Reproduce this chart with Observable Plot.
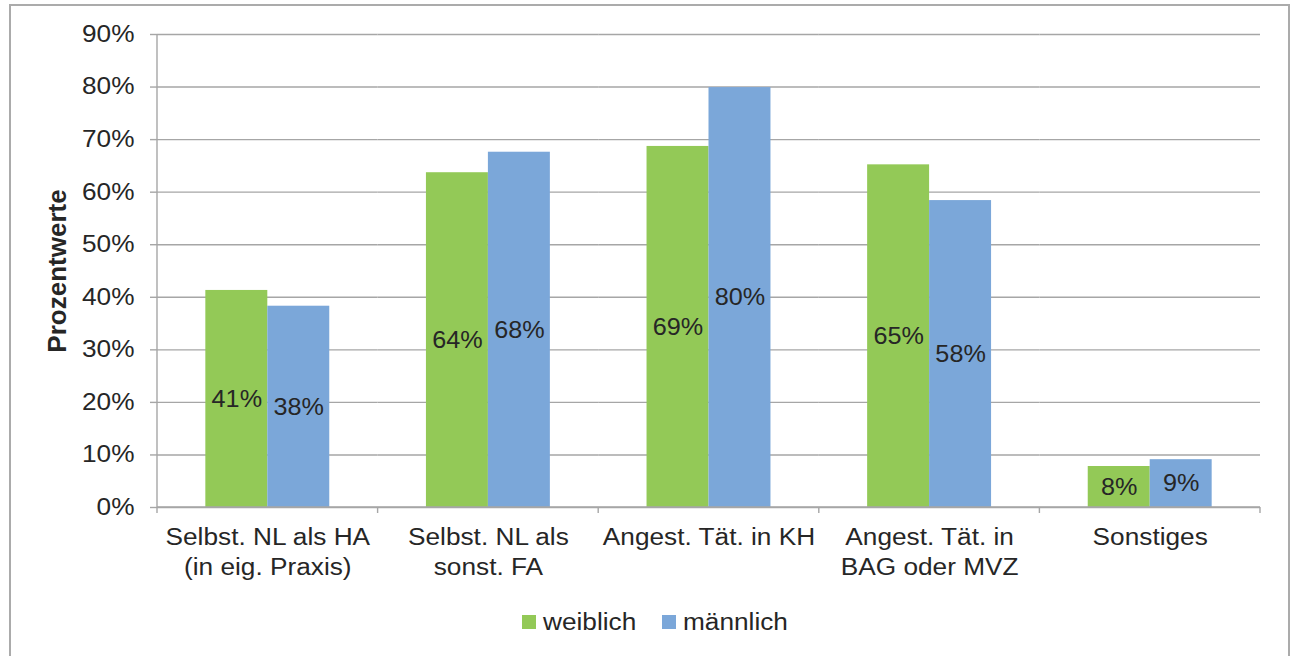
<!DOCTYPE html>
<html>
<head>
<meta charset="utf-8">
<script src="https://cdn.jsdelivr.net/npm/d3@7"></script>
<script src="https://cdn.jsdelivr.net/npm/@observablehq/plot@0.6"></script>
<style>
  html, body { margin: 0; padding: 0; background: #fff; }
  body { width: 1295px; height: 656px; overflow: hidden; position: relative; font-family: "Liberation Sans", Arial, sans-serif; }
  #frame { position: absolute; left: 9px; top: 4px; width: 1277px; height: 700px; border: 2px solid #ababab; pointer-events: none; }
  #chart { position: absolute; left: 0; top: 0; }
  #legend { position: absolute; left: 522px; top: 608px; display: flex; align-items: center; font-size: 23px; color: #262626; line-height: 28px; white-space: nowrap; }
  #legend .item { display: flex; align-items: center; }
  #legend .sw { width: 14px; height: 14px; margin-right: 7px; }
  #legend .lbl { display: inline-block; transform-origin: left center; }
</style>
</head>
<body>
<div id="chart"></div>
<div id="legend"></div>
<div id="frame"></div>
<script>
const categories = [
  "Selbst. NL als HA\n(in eig. Praxis)",
  "Selbst. NL als\nsonst. FA",
  "Angest. Tät. in KH",
  "Angest. Tät. in\nBAG oder MVZ",
  "Sonstiges"
];
const series = ["weiblich", "männlich"];
const weiblich = [0.413, 0.637, 0.687, 0.652, 0.078];
const maennlich = [0.383, 0.676, 0.799, 0.584, 0.091];
const yTicks = [0, 0.1, 0.2, 0.3, 0.4, 0.5, 0.6, 0.7, 0.8, 0.9];
const colors = ["#93C957", "#7BA7D9"];
const yLabel = "Prozentwerte";

const data = categories.flatMap((c, i) => [
  {cat: c, sex: series[0], value: weiblich[i]},
  {cat: c, sex: series[1], value: maennlich[i]}
]);

const gridColor = "#a6a6a6";
const textColor = "#262626";
const pct = d3.format(".0%");
const stretch = 1.14;      // the reference font is slightly wide
const stretchValues = 1.05;

const plot = Plot.plot({
  width: 1295,
  height: 595,
  marginLeft: 157,
  marginRight: 35,
  marginTop: 34,
  marginBottom: 88,
  style: {fontFamily: '"Liberation Sans", Arial, sans-serif', fontSize: "23px", color: textColor, background: "transparent", overflow: "visible"},
  fx: {domain: categories, padding: 0, round: false, label: null},
  x: {domain: series, paddingInner: 0, paddingOuter: 0.78, round: false, axis: null},
  y: {domain: [0, 0.9], axis: null},
  color: {domain: series, range: colors},
  marks: [
    Plot.ruleY(yTicks, {stroke: gridColor, strokeWidth: 1.4}),
    Plot.barY(data, {fx: "cat", x: "sex", y: "value", fill: "sex"}),
    Plot.text(data, {fx: "cat", x: "sex", y: d => d.value / 2, text: d => pct(d.value), fill: textColor, fontSize: 24, className: "vlabel"}),
    Plot.axisY({ticks: yTicks, tickFormat: ".0%", tickSize: 7, tickPadding: 16, stroke: gridColor, strokeWidth: 1.4, fill: textColor, fontSize: 23, label: null}),
    Plot.text([categories[0]], {fx: d => d, text: [yLabel], frameAnchor: "left", textAnchor: "middle", rotate: -90, dx: -100, fontWeight: "bold", fontSize: 26, fill: textColor, className: "ylabel"}),
    Plot.axisFx({anchor: "bottom", tickSize: 0, tickPadding: 16, lineHeight: 1.3, fontSize: 23, fill: textColor, label: null})
  ]
});

document.getElementById("chart").appendChild(plot);

// widen glyphs horizontally to match the reference's font proportions
function widen(el, k) {
  const L = el.getComputedTextLength();
  if (L > 0) {
    el.setAttribute("textLength", (L * k).toFixed(2));
    el.setAttribute("lengthAdjust", "spacingAndGlyphs");
  }
}
d3.select(plot).selectAll("text").each(function() {
  if (this.closest(".ylabel")) return;
  const k = this.closest(".vlabel") ? stretchValues : stretch;
  const tspans = this.querySelectorAll("tspan");
  if (tspans.length) tspans.forEach(t => widen(t, k));
  else widen(this, k);
});

// axis lines & category boundary ticks via the plot's own scales
const fx = plot.scale("fx");
const ys = plot.scale("y");
const y0 = ys.apply(0), yTop = ys.apply(0.9);
const bounds = categories.map(c => fx.apply(c));
bounds.push(fx.apply(categories[categories.length - 1]) + fx.bandwidth);
const svg = d3.select(plot);
const g = svg.append("g").attr("stroke", gridColor).attr("stroke-width", 1.4);
g.append("line").attr("x1", bounds[0]).attr("x2", bounds[0]).attr("y1", yTop).attr("y2", y0);
g.append("line").attr("x1", bounds[0]).attr("x2", bounds[bounds.length - 1]).attr("y1", y0).attr("y2", y0);
bounds.forEach(b => g.append("line").attr("x1", b).attr("x2", b).attr("y1", y0).attr("y2", y0 + 6));

// legend
const legend = d3.select("#legend");
series.forEach((s, i) => {
  const it = legend.append("div").attr("class", "item");
  it.append("div").attr("class", "sw").style("background", colors[i]);
  const sp = it.append("span").attr("class", "lbl").text(s).node();
  const w = sp.offsetWidth;
  sp.style.transform = `scaleX(${stretch})`;
  it.style("margin-right", (w * (stretch - 1) + 26) + "px");
});
</script>
</body>
</html>
